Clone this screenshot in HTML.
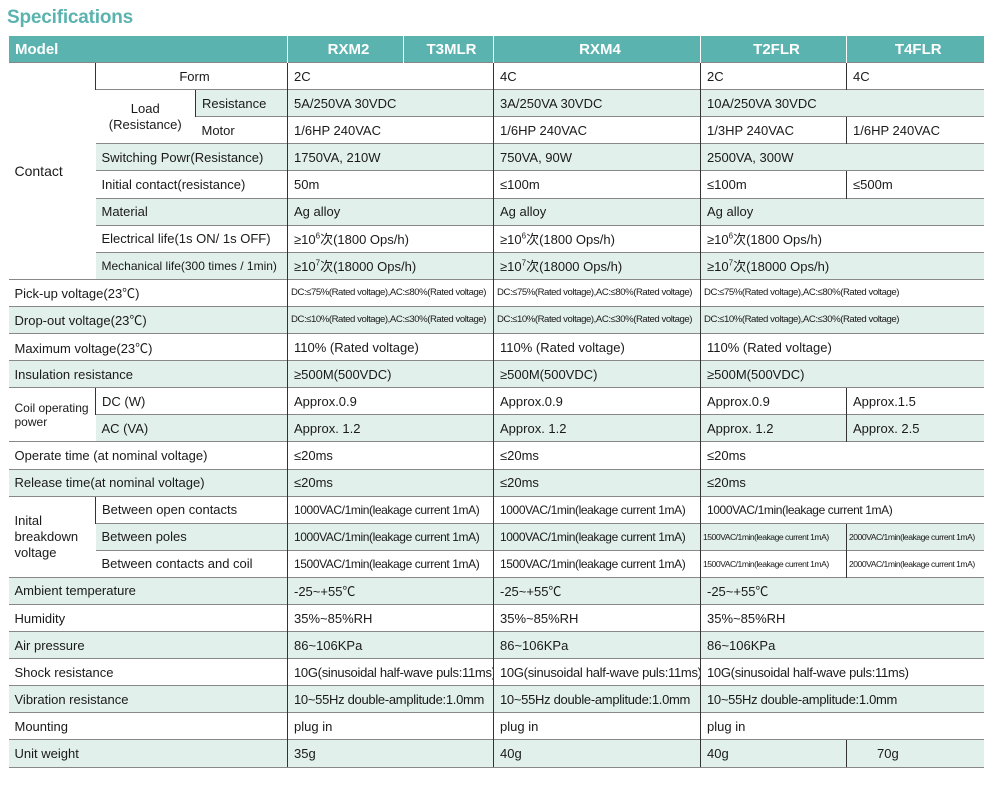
<!DOCTYPE html>
<html><head><meta charset="utf-8"><style>
body{margin:0;width:1001px;height:785px;background:#fff;overflow:hidden;font-family:"Liberation Sans","Noto Sans CJK SC",sans-serif;color:#1a1a1a}
h1{position:absolute;left:7px;top:7px;margin:0;font-size:19px;font-weight:bold;color:#5bb3af;letter-spacing:-0.2px}
table{position:absolute;left:8px;top:36px;border-collapse:collapse;table-layout:fixed;width:975px}
td{height:26.1px;padding:0 0 0 6px;font-size:13px;border-top:1px solid #888;border-left:1px solid #333;white-space:nowrap;overflow:hidden;vertical-align:middle}
tr td:first-child{border-left:none}
tr.h td{background:#5bb3af;color:#fff;font-weight:bold;font-size:15px;text-align:center;border-left:1px solid #fff;border-top:none}
tr.h td:first-child{text-align:left;padding-left:6px}
tr.s td{background:#e2f0ec}
td.w{background:#fff!important}
.c{text-align:center}
.sm{font-size:9.6px;letter-spacing:-0.45px;padding-left:3px}
.xs{font-size:8.6px;letter-spacing:-0.5px;padding-left:2px}
sup{font-size:8px;line-height:0}
</style></head><body>
<h1>Specifications</h1>
<table>
<colgroup><col style="width:87px"><col style="width:100px"><col style="width:92px"><col style="width:116px"><col style="width:90px"><col style="width:207px"><col style="width:146px"><col style="width:137px"></colgroup>
<tr class="h"><td colspan="3">Model</td><td>RXM2</td><td>T3MLR</td><td>RXM4</td><td>T2FLR</td><td>T4FLR</td></tr>
<tr><td rowspan="8" class="w" style="font-size:14px">Contact</td><td colspan="2" class="c">Form</td><td colspan="2">2C</td><td>4C</td><td>2C</td><td>4C</td></tr>
<tr class="s"><td rowspan="2" class="w c" style="line-height:16px;padding:0">Load<br>(Resistance)</td><td>Resistance</td><td colspan="2">5A/250VA 30VDC</td><td>3A/250VA 30VDC</td><td colspan="2">10A/250VA 30VDC</td></tr>
<tr><td>Motor</td><td colspan="2">1/6HP 240VAC</td><td>1/6HP 240VAC</td><td>1/3HP 240VAC</td><td>1/6HP 240VAC</td></tr>
<tr class="s"><td colspan="2">Switching Powr(Resistance)</td><td colspan="2">1750VA, 210W</td><td>750VA, 90W</td><td colspan="2">2500VA, 300W</td></tr>
<tr><td colspan="2">Initial contact(resistance)</td><td colspan="2">50m</td><td>≤100m</td><td>≤100m</td><td>≤500m</td></tr>
<tr class="s"><td colspan="2">Material</td><td colspan="2">Ag alloy</td><td>Ag alloy</td><td colspan="2">Ag alloy</td></tr>
<tr><td colspan="2">Electrical life(1s ON/ 1s OFF)</td><td colspan="2">≥10<sup>6</sup>次(1800 Ops/h)</td><td>≥10<sup>6</sup>次(1800 Ops/h)</td><td colspan="2">≥10<sup>6</sup>次(1800 Ops/h)</td></tr>
<tr class="s"><td colspan="2" style="font-size:12px">Mechanical life(300 times / 1min)</td><td colspan="2">≥10<sup>7</sup>次(18000 Ops/h)</td><td>≥10<sup>7</sup>次(18000 Ops/h)</td><td colspan="2">≥10<sup>7</sup>次(18000 Ops/h)</td></tr>
<tr><td colspan="3">Pick-up voltage(23℃)</td><td colspan="2" class="sm">DC:≤75%(Rated voltage),AC:≤80%(Rated voltage)</td><td class="sm">DC:≤75%(Rated voltage),AC:≤80%(Rated voltage)</td><td colspan="2" class="sm">DC:≤75%(Rated voltage),AC:≤80%(Rated voltage)</td></tr>
<tr class="s"><td colspan="3">Drop-out voltage(23℃)</td><td colspan="2" class="sm">DC:≤10%(Rated voltage),AC:≤30%(Rated voltage)</td><td class="sm">DC:≤10%(Rated voltage),AC:≤30%(Rated voltage)</td><td colspan="2" class="sm">DC:≤10%(Rated voltage),AC:≤30%(Rated voltage)</td></tr>
<tr><td colspan="3">Maximum voltage(23℃)</td><td colspan="2">110% (Rated voltage)</td><td>110% (Rated voltage)</td><td colspan="2">110% (Rated voltage)</td></tr>
<tr class="s"><td colspan="3">Insulation resistance</td><td colspan="2">≥500M(500VDC)</td><td>≥500M(500VDC)</td><td colspan="2">≥500M(500VDC)</td></tr>
<tr><td rowspan="2" class="w" style="font-size:12px;line-height:14px">Coil operating<br>power</td><td colspan="2">DC (W)</td><td colspan="2">Approx.0.9</td><td>Approx.0.9</td><td>Approx.0.9</td><td>Approx.1.5</td></tr>
<tr class="s"><td colspan="2">AC (VA)</td><td colspan="2">Approx. 1.2</td><td>Approx. 1.2</td><td>Approx. 1.2</td><td>Approx. 2.5</td></tr>
<tr><td colspan="3">Operate time (at nominal voltage)</td><td colspan="2">≤20ms</td><td>≤20ms</td><td colspan="2">≤20ms</td></tr>
<tr class="s"><td colspan="3">Release time(at nominal voltage)</td><td colspan="2">≤20ms</td><td>≤20ms</td><td colspan="2">≤20ms</td></tr>
<tr><td rowspan="3" class="w" style="line-height:16px">Inital<br>breakdown<br>voltage</td><td colspan="2">Between open contacts</td><td colspan="2" style="font-size:12px;letter-spacing:-0.4px">1000VAC/1min(leakage current 1mA)</td><td style="font-size:12px;letter-spacing:-0.4px">1000VAC/1min(leakage current 1mA)</td><td colspan="2" style="font-size:12px;letter-spacing:-0.4px">1000VAC/1min(leakage current 1mA)</td></tr>
<tr class="s"><td colspan="2">Between poles</td><td colspan="2" style="font-size:12px;letter-spacing:-0.4px">1000VAC/1min(leakage current 1mA)</td><td style="font-size:12px;letter-spacing:-0.4px">1000VAC/1min(leakage current 1mA)</td><td class="xs">1500VAC/1min(leakage current 1mA)</td><td class="xs">2000VAC/1min(leakage current 1mA)</td></tr>
<tr><td colspan="2">Between contacts and coil</td><td colspan="2" style="font-size:12px;letter-spacing:-0.4px">1500VAC/1min(leakage current 1mA)</td><td style="font-size:12px;letter-spacing:-0.4px">1500VAC/1min(leakage current 1mA)</td><td class="xs">1500VAC/1min(leakage current 1mA)</td><td class="xs">2000VAC/1min(leakage current 1mA)</td></tr>
<tr class="s"><td colspan="3">Ambient temperature</td><td colspan="2">-25~+55℃</td><td>-25~+55℃</td><td colspan="2">-25~+55℃</td></tr>
<tr><td colspan="3">Humidity</td><td colspan="2">35%~85%RH</td><td>35%~85%RH</td><td colspan="2">35%~85%RH</td></tr>
<tr class="s"><td colspan="3">Air pressure</td><td colspan="2">86~106KPa</td><td>86~106KPa</td><td colspan="2">86~106KPa</td></tr>
<tr><td colspan="3">Shock resistance</td><td colspan="2" style="letter-spacing:-0.3px">10G(sinusoidal half-wave puls:11ms)</td><td style="letter-spacing:-0.3px">10G(sinusoidal half-wave puls:11ms)</td><td colspan="2" style="letter-spacing:-0.3px">10G(sinusoidal half-wave puls:11ms)</td></tr>
<tr class="s"><td colspan="3">Vibration resistance</td><td colspan="2" style="letter-spacing:-0.3px">10~55Hz double-amplitude:1.0mm</td><td style="letter-spacing:-0.3px">10~55Hz double-amplitude:1.0mm</td><td colspan="2" style="letter-spacing:-0.3px">10~55Hz double-amplitude:1.0mm</td></tr>
<tr><td colspan="3">Mounting</td><td colspan="2">plug in</td><td>plug in</td><td colspan="2">plug in</td></tr>
<tr class="s"><td colspan="3" style="border-bottom:1px solid #888">Unit weight</td><td colspan="2" style="border-bottom:1px solid #888">35g</td><td style="border-bottom:1px solid #888">40g</td><td style="border-bottom:1px solid #888">40g</td><td style="border-bottom:1px solid #888;padding-left:30px">70g</td></tr>
</table>
</body></html>
